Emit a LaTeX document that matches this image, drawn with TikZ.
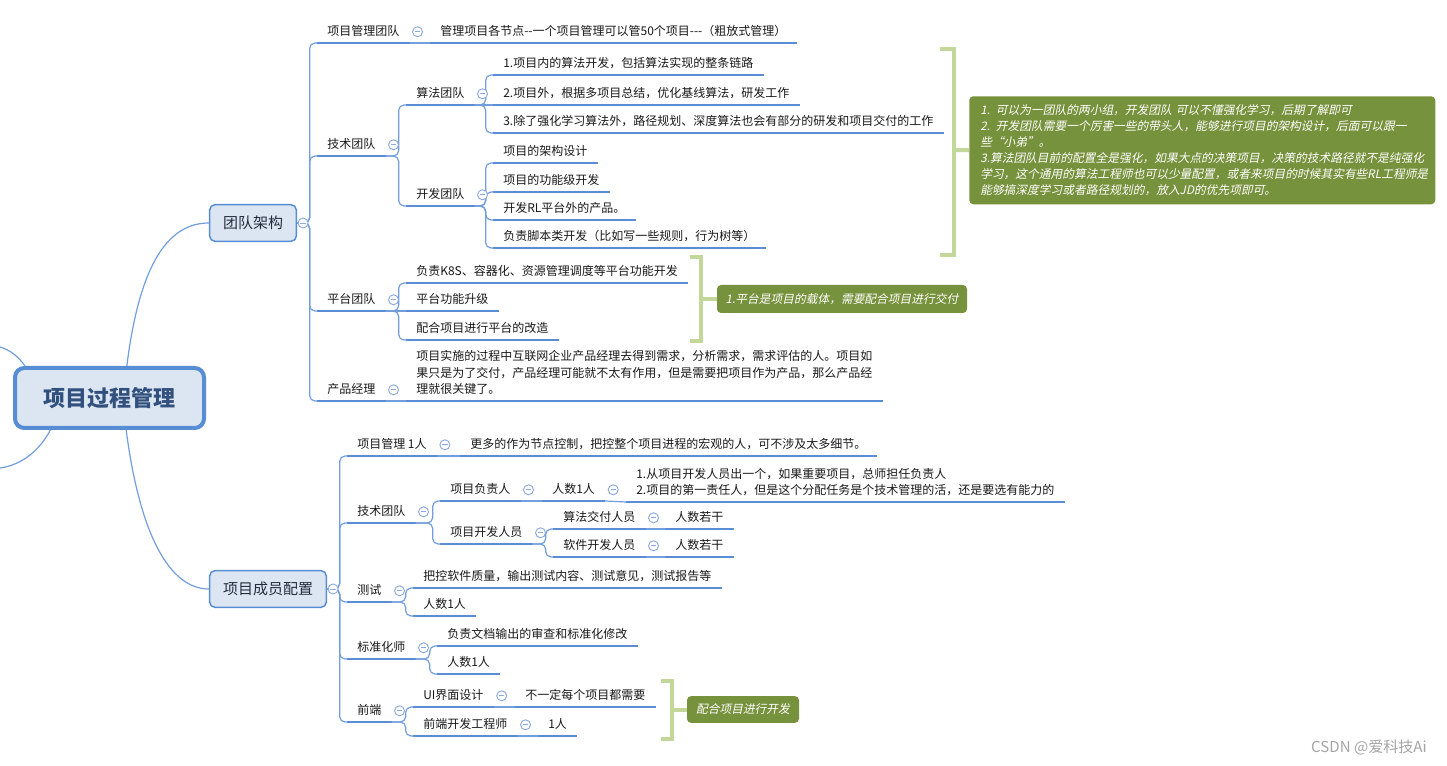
\documentclass[tikz,border=0pt]{standalone}
\usepackage{fontspec}
\setmainfont{Noto Sans CJK SC}
\newfontfamily\cjkit{Noto Sans CJK SC}[FakeSlant=0.2]
\usetikzlibrary{calc}
\definecolor{ulc}{RGB}{91,141,214}
\definecolor{connc}{RGB}{115,158,222}
\definecolor{collc}{RGB}{140,170,222}
\definecolor{txtc}{RGB}{25,25,25}
\definecolor{boxfill}{RGB}{220,230,242}
\definecolor{boxdraw}{RGB}{86,141,212}
\definecolor{ctext}{RGB}{50,80,125}
\definecolor{btext}{RGB}{35,45,60}
\definecolor{calfill}{RGB}{119,146,60}
\definecolor{brkc}{RGB}{196,215,155}
\definecolor{wmc}{RGB}{165,165,165}
\newcommand\tfs{\fontsize{9pt}{12.5pt}\selectfont}
\newcommand\myelbow[2]{\draw[conn] (#1.south east) -| ([xshift=-5.5pt]#2.south west) -- (#2.south west);}
\newcommand\mystraight[2]{\draw[conn] (#1.south east) -- (#2.south west);}
\newcommand\myboxelbow[2]{\draw[conn] (#1.east) -| ([xshift=-5.5pt]#2.south west) -- (#2.south west);}
\newcommand\mycoll[2]{\node[coll] (k#1) at ([xshift=#2]#1.east) {};}
\begin{document}
\begin{tikzpicture}[x=0.75pt,y=-0.75pt,
  uline/.style={draw=ulc, line width=2pt},
  conn/.style={draw=connc, line width=0.9pt, rounded corners=4pt},
  topic/.style={anchor=south west, inner xsep=7.5pt, inner ysep=3.2pt, text height=8pt, text depth=2pt, font=\tfs, text=txtc,
    append after command={(\tikzlastnode.south west) edge[uline] (\tikzlastnode.south east)}},
  mtopic/.style={anchor=south west, inner xsep=7.5pt, inner ysep=4.3pt, align=left, font=\tfs, text=txtc,
    append after command={(\tikzlastnode.south west) edge[uline] (\tikzlastnode.south east)}},
  coll/.style={circle, draw=collc, fill=white, line width=0.7pt, minimum size=7.5pt, inner sep=0pt,
    path picture={\draw[collc, line width=0.7pt] ([xshift=-2pt]path picture bounding box.center) -- ([xshift=2pt]path picture bounding box.center);}},
  cbox/.style={draw=boxdraw, line width=3pt, fill=boxfill, rounded corners=7pt, minimum width=141.75pt, minimum height=45pt, inner sep=0pt, text=ctext, font=\fontsize{16.5pt}{18pt}\selectfont\bfseries},
  mbox/.style={draw=boxdraw, line width=1.1pt, fill=boxfill, rounded corners=4pt, minimum height=27.5pt, inner sep=0pt, text=btext, font=\fontsize{11.25pt}{13pt}\selectfont},
  callout/.style={fill=calfill, rounded corners=3pt, text=white, inner sep=0pt, font=\cjkit\fontsize{8.8pt}{12pt}\selectfont},
  brk/.style={draw=brkc, line width=3pt}
]
\fill[white] (0,0) rectangle (1447,766);
\useasboundingbox (0,0) rectangle (1447,766);

% main boxes
\node[cbox] (central) at (109.5,398) {项目过程管理};
\node[mbox, minimum width=65pt] (tdj) at (253,223) {团队架构};
\node[mbox, minimum width=87.5pt] (xmcy) at (268,589) {项目成员配置};

% upper branch
\node[topic] (pmt) at (317,43) {项目管理团队};
\node[topic] (pmc) at (430,43) {管理项目各节点-\kern0pt-一个项目管理可以管50个项目-\kern0pt-\kern0pt-（粗放式管理）};
\node[topic] (jtt) at (317,156) {技术团队};
\node[topic] (sft) at (406,105) {算法团队};
\node[topic] (sfa) at (493,75) {1.项目内的算法开发，包括算法实现的整条链路};
\node[topic] (sfb) at (493,105) {2.项目外，根据多项目总结，优化基线算法，研发工作};
\node[topic] (sfc) at (493,133) {3.除了强化学习算法外，路径规划、深度算法也会有部分的研发和项目交付的工作};
\node[topic] (kft) at (406,206) {开发团队};
\node[topic] (kfa) at (493,163) {项目的架构设计};
\node[topic] (kfb) at (493,192) {项目的功能级开发};
\node[topic] (kfc) at (493,220) {开发RL平台外的产品。};
\node[topic] (kfd) at (493,248) {负责脚本类开发（比如写一些规则，行为树等）};
\node[topic] (ptt) at (317,311) {平台团队};
\node[topic] (pta) at (406,283) {负责K8S、容器化、资源管理调度等平台功能开发};
\node[topic] (ptb) at (406,311) {平台功能升级};
\node[topic] (ptc) at (406,340) {配合项目进行平台的改造};
\node[topic] (cpt) at (317,401) {产品经理};
\node[mtopic] (cpa) at (406,401) {项目实施的过程中互联网企业产品经理去得到需求，分析需求，需求评估的人。项目如\\果只是为了交付，产品经理可能就不太有作用，但是需要把项目作为产品，那么产品经\\理就很关键了。};

% lower branch
\node[topic] (mpm) at (347,456) {项目管理 1人};
\node[topic] (mpma) at (460,456) {更多的作为节点控制，把控整个项目进程的宏观的人，可不涉及太多细节。};
\node[topic] (mjt) at (347,523) {技术团队};
\node[topic] (mfz) at (440,501) {项目负责人};
\node[topic] (mfza) at (542,501) {人数1人};
\node[mtopic] (mfzb) at (626,502) {1.从项目开发人员出一个，如果重要项目，总师担任负责人\\2.项目的第一责任人，但是这个分配任务是个技术管理的活，还是要选有能力的};
\node[topic] (mkf) at (440,544) {项目开发人员};
\node[topic] (msf) at (553,529) {算法交付人员};
\node[topic] (msfa) at (665,529) {人数若干};
\node[topic] (mrj) at (553,557) {软件开发人员};
\node[topic] (mrja) at (665,557) {人数若干};
\node[topic] (mcs) at (347,602) {测试};
\node[topic] (mcsa) at (413,588) {把控软件质量，输出测试内容、测试意见，测试报告等};
\node[topic] (mcsb) at (413,616) {人数1人};
\node[topic] (mbz) at (347,659) {标准化师};
\node[topic] (mbza) at (437,646) {负责文档输出的审查和标准化修改};
\node[topic] (mbzb) at (437,674) {人数1人};
\node[topic] (mqd) at (347,722) {前端};
\node[topic] (mui) at (413,707) {UI界面设计};
\node[topic] (muia) at (515,707) {不一定每个项目都需要};
\node[topic] (mqe) at (413,736) {前端开发工程师};
\node[topic] (mqea) at (538,736) {1人};

% callouts
\node[callout, anchor=north west, minimum width=349.5pt, minimum height=81pt, text width=333pt, inner xsep=8.25pt, align=left] (cba) at (969,96)
 {1. 可以为一团队的两小组，开发团队 可以不懂强化学习，后期了解即可\\
  2. 开发团队需要一个厉害一些的带头人，能够进行项目的架构设计，后面可以跟一\\
  些“小弟”。\\
  3.算法团队目前的配置全是强化，如果大点的决策项目，决策的技术路径就不是纯强化\\
  学习，这个通用的算法工程师也可以少量配置，或者来项目的时候其实有些RL工程师是\\
  能够搞深度学习或者路径规划的，放入JD的优先项即可。};
\node[callout, minimum width=187.5pt, minimum height=21pt] (cbb) at (842,299) {1.平台是项目的载体，需要配合项目进行交付};
\node[callout, minimum width=84pt, minimum height=20pt] (cbc) at (743,709.5) {配合项目进行开发};

% brackets
\coordinate (bma) at (954,150);
\coordinate (bmb) at (701,299);
\coordinate (bmc) at (672,709.5);
\draw[brk] (940,49) -- (954,49) -- (954,255) -- (940,255);
\draw[brk] (bma) -- (cba.west);
\draw[brk] (690,257) -- (701,257) -- (701,341) -- (690,341);
\draw[brk] (bmb) -- (cbb.west);
\draw[brk] (661,681) -- (672,681) -- (672,739) -- (661,739);
\draw[brk] (bmc) -- (cbc.west);

% connectors from the central topic
\coordinate (offa) at (0,347);
\coordinate (offb) at (0,468);
\draw[conn] ([xshift=13pt]central.north) .. controls (140,260) and (170,223) .. (tdj.west);
\draw[conn] ([xshift=12.5pt]central.south) .. controls (140,536) and (170,589) .. (xmcy.west);
\draw[conn] ([xshift=9pt]central.north west) .. controls (18,356) and (10,350) .. (offa);
\draw[conn] ([xshift=28pt]central.south west) .. controls (40,450) and (22,465) .. (offb);

% upper connectors
\myboxelbow{tdj}{pmt}
\myboxelbow{tdj}{jtt}
\myboxelbow{tdj}{ptt}
\myboxelbow{tdj}{cpt}
\mystraight{pmt}{pmc}
\myelbow{jtt}{sft}
\myelbow{jtt}{kft}
\myelbow{sft}{sfa}
\mystraight{sft}{sfb}
\myelbow{sft}{sfc}
\myelbow{kft}{kfa}
\myelbow{kft}{kfb}
\myelbow{kft}{kfc}
\myelbow{kft}{kfd}
\myelbow{ptt}{pta}
\mystraight{ptt}{ptb}
\myelbow{ptt}{ptc}
\mystraight{cpt}{cpa}

% lower connectors
\myboxelbow{xmcy}{mpm}
\myboxelbow{xmcy}{mjt}
\myboxelbow{xmcy}{mcs}
\myboxelbow{xmcy}{mbz}
\myboxelbow{xmcy}{mqd}
\mystraight{mpm}{mpma}
\myelbow{mjt}{mfz}
\myelbow{mjt}{mkf}
\mystraight{mfz}{mfza}
\mystraight{mfza}{mfzb}
\myelbow{mkf}{msf}
\myelbow{mkf}{mrj}
\mystraight{msf}{msfa}
\mystraight{mrj}{mrja}
\myelbow{mcs}{mcsa}
\myelbow{mcs}{mcsb}
\myelbow{mbz}{mbza}
\myelbow{mbz}{mbzb}
\myelbow{mqd}{mui}
\myelbow{mqd}{mqe}
\mystraight{mui}{muia}
\mystraight{mqe}{mqea}

% collapse markers
\mycoll{tdj}{4.5pt}
\mycoll{xmcy}{4.5pt}
\mycoll{pmt}{6pt}
\mycoll{jtt}{6pt}
\mycoll{sft}{6pt}
\mycoll{kft}{6pt}
\mycoll{ptt}{6pt}
\mycoll{cpt}{6pt}
\mycoll{mpm}{6pt}
\mycoll{mjt}{6pt}
\mycoll{mfz}{6pt}
\mycoll{mfza}{6pt}
\mycoll{mkf}{6pt}
\mycoll{msf}{6pt}
\mycoll{mrj}{6pt}
\mycoll{mcs}{6pt}
\mycoll{mbz}{6pt}
\mycoll{mqd}{6pt}
\mycoll{mui}{6pt}
\mycoll{mqe}{6pt}

% watermark
\node[font=\fontsize{11.3pt}{13pt}\selectfont, text=wmc, inner sep=0pt] (wm) at (1369,747) {CSDN @爱科技Ai};
\end{tikzpicture}
\end{document}
